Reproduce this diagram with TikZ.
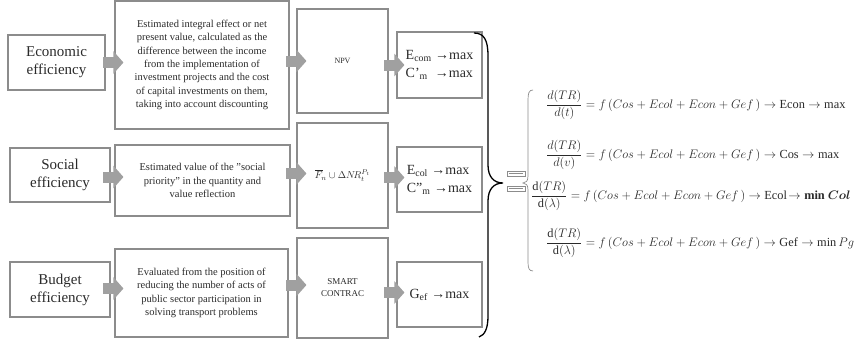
\documentclass[tikz,border=0pt]{standalone}
\usepackage{fontspec}
\setmainfont{Liberation Serif}
\usepackage{amsmath,bm}
\usetikzlibrary{arrows.meta,calc}
\definecolor{boxgray}{HTML}{8C8C8C}
\definecolor{arrgray}{HTML}{A0A0A0}
\definecolor{txt}{HTML}{2A2A2A}
\begin{document}
\begin{tikzpicture}[x=1pt,y=-1pt,
  bx/.style={draw=boxgray,line width=1.1pt,inner sep=0pt,align=center,text=txt},
  lbl/.style={bx,font=\fontsize{15}{18}\selectfont},
  desc/.style={bx,font=\fontsize{10.5}{13.3}\selectfont},
  res/.style={bx,font=\fontsize{14}{18}\selectfont,align=left},
  blk/.style={arrgray,line width=11pt,-{Triangle[length=10pt,width=22pt]}},
  eq/.style={inner sep=0pt,anchor=west,text=txt,font=\fontsize{12}{14}\selectfont,scale=1.03,transform shape}]
\useasboundingbox (0,0) rectangle (859,340);
% column 1
\node[lbl,minimum width=97pt,minimum height=55pt] (e1) at (56.5,62.5) {Economic\\efficiency};
\node[lbl,minimum width=100pt,minimum height=54pt] (e2) at (60,175) {Social\\efficiency};
\node[lbl,minimum width=100pt,minimum height=55pt] (e3) at (60,289.5) {Budget\\efficiency};
% column 2
\node[desc,minimum width=174pt,minimum height=128pt] (d1) at (202,65) {Estimated integral effect or net\\present value, calculated as the\\difference between the income\\from the implementation of\\investment projects and the cost\\of capital investments on them,\\taking into account discounting};
\node[desc,minimum width=175pt,minimum height=71pt] (d2) at (202.5,180.5) {Estimated value of the "social\\priority" in the quantity and\\value reflection};
\node[desc,minimum width=173pt,minimum height=88pt] (d3) at (201.5,293) {Evaluated from the position of\\reducing the number of acts of\\public sector participation in\\solving transport problems};
% column 3
\node[bx,font=\fontsize{8}{10}\selectfont,minimum width=91pt,minimum height=104pt] (n1) at (342.5,61) {NPV};
\node[bx,font=\fontsize{10}{12}\selectfont,minimum width=91pt,minimum height=105pt] (n2) at (342.5,175.5) {$\overline{F}_{\!n}\cup\Delta N\!R_t^{P_t}$};
\node[bx,font=\fontsize{9}{12}\selectfont,minimum width=91pt,minimum height=100pt] (n3) at (342.5,288) {SMART\\CONTRAC};
% column 4
\node[res,minimum width=85pt,minimum height=66pt] (r1) at (439.5,65) {E\textsubscript{com} →max\\C'\textsubscript{m} \ →max};
\node[res,minimum width=85pt,minimum height=65pt] (r2) at (439.5,179.5) {E\textsubscript{col} →max\\C''\textsubscript{m} →max};
\node[res,minimum width=85pt,minimum height=65pt] (r3) at (439.5,294.5) {G\textsubscript{ef} →max};
% block arrows
\foreach \i/\da/\db/\dc in {1/0/0/0,2/2/-2/-2,3/-1/-3/-2}{
  \draw[blk] ($(d\i.west |- e\i.east)+(-11,\da)$) -- ($(d\i.west |- e\i.east)+(9,\da)$);
  \draw[blk] ($(n\i.west)+(-10,\db)$) -- ($(n\i.west)+(10,\db)$);
  \draw[blk] ($(r\i.west)+(-12,\dc)$) -- ($(r\i.west)+(8,\dc)$);
}
% big brace
\draw[line width=1.3pt,black] (474,33) .. controls (484,33) and (488,40) .. (488,56) -- (488,165) .. controls (488,177) and (494,183) .. (503,183) .. controls (494,183) and (488,189) .. (488,201) -- (488,316) .. controls (488,328) and (485,335) .. (479,337);
% small marks
\draw[boxgray,line width=0.5pt] (507,171) rectangle (525,176) (509,173.5) -- (523,173.5);
\draw[boxgray,line width=0.5pt] (507,186) rectangle (525,191) (509,188.5) -- (523,188.5);
% system brace
\draw[boxgray,line width=0.7pt] (533,90) .. controls (529,90) and (528,93) .. (528,100) -- (528,176) .. controls (528,181) and (526,183) .. (523,183) .. controls (526,183) and (528,185) .. (528,190) -- (528,262) .. controls (528,268) and (529,271) .. (533,271);
% equations
\node[eq] (q1) at (546,105) {$\dfrac{d(TR)}{d(t)} = f\,(Cos + Ecol + Econ + Gef\,) \rightarrow \mathrm{Econ} \rightarrow \mathrm{max}$};
\node[eq] (q2) at (546,155) {$\dfrac{d(TR)}{d(v)} = f\,(Cos + Ecol + Econ + Gef\,) \rightarrow \mathrm{Cos} \rightarrow \mathrm{max}$};
\node[eq] (q3) at (531,196) {$\dfrac{\mathrm{d}(TR)}{\mathrm{d}(\lambda)} = f\,(Cos + Ecol + Econ + Gef\,) \rightarrow \mathrm{Ecol}\!\rightarrow \mathbf{min}\ \bm{Col}$};
\node[eq] (q4) at (546,243) {$\dfrac{\mathrm{d}(TR)}{\mathrm{d}(\lambda)} = f\,(Cos + Ecol + Econ + Gef\,) \rightarrow \mathrm{Gef} \rightarrow \mathrm{min}\,Pg$};
\end{tikzpicture}
\end{document}
